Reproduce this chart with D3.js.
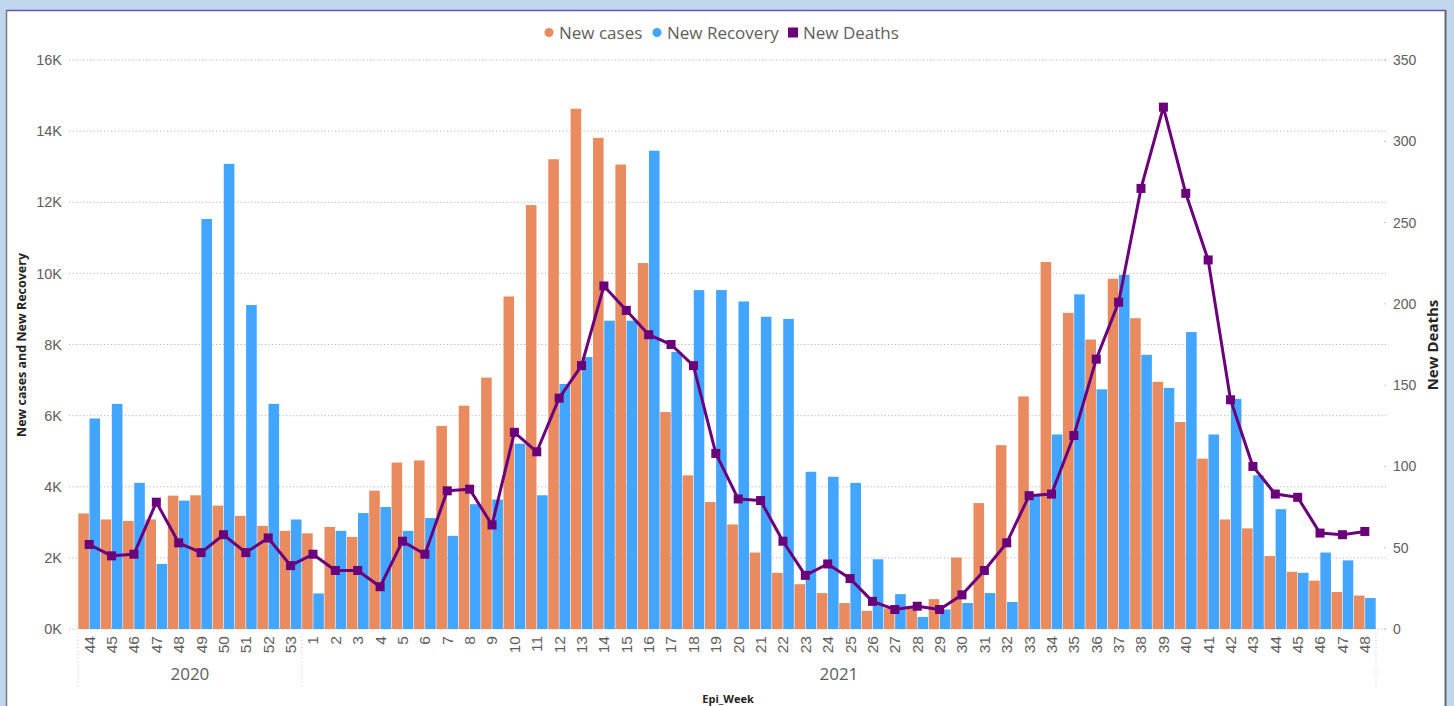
<!DOCTYPE html>
<html>
<head>
<meta charset="utf-8">
<script src="https://cdn.jsdelivr.net/npm/d3@7"></script>
<style>
  html, body { margin: 0; padding: 0; background: #bfd6ee; }
  svg { display: block; font-family: "Segoe UI", "Open Sans", sans-serif; }
</style>
</head>
<body>
<svg id="chart"></svg>
<script>
const width = 1454;
const height = 706;

// epi weeks, grouped by year
const weeks2020 = ["44", "45", "46", "47", "48", "49", "50", "51", "52", "53"];
const weeks2021 = ["1", "2", "3", "4", "5", "6", "7", "8", "9", "10", "11", "12", "13", "14", "15", "16",
  "17", "18", "19", "20", "21", "22", "23", "24", "25", "26", "27", "28", "29", "30", "31", "32",
  "33", "34", "35", "36", "37", "38", "39", "40", "41", "42", "43", "44", "45", "46", "47", "48"];
const years = ["2020", "2021"];

const newCases = [3250, 3080, 3040, 3080, 3750, 3760, 3470, 3180, 2900, 2760,
  2690, 2870, 2590, 3890, 4680, 4740, 5710, 6280, 7070, 9350, 11920, 13210, 14630, 13810, 13060, 10290,
  6100, 4320, 3570, 2940, 2150, 1580, 1260, 1010, 730, 510, 580, 590, 840, 2010, 3540, 5170,
  6540, 10320, 8890, 8140, 9850, 8740, 6950, 5820, 4790, 3080, 2830, 2050, 1610, 1360, 1040, 940];

const newRecovery = [5920, 6330, 4110, 1830, 3610, 11530, 13080, 9110, 6330, 3080,
  1000, 2760, 3260, 3430, 2760, 3120, 2620, 3510, 3640, 5210, 3760, 6890, 7650, 8670, 8670, 13450,
  7790, 9530, 9530, 9210, 8780, 8720, 4420, 4280, 4110, 1960, 980, 340, 550, 730, 1010, 760,
  3760, 5470, 9410, 6740, 9960, 7710, 6780, 8350, 5470, 6470, 4320, 3370, 1580, 2150, 1930, 870];

const newDeaths = [52, 45, 46, 78, 53, 47, 58, 47, 56, 39,
  46, 36, 36, 26, 54, 46, 85, 86, 64, 121, 109, 142, 162, 211, 196, 181,
  175, 162, 108, 80, 79, 54, 33, 40, 31, 17, 12, 14, 12, 21, 36, 53,
  82, 83, 119, 166, 201, 271, 321, 268, 227, 141, 100, 83, 81, 59, 58, 60];

const leftTicks = [0, 2000, 4000, 6000, 8000, 10000, 12000, 14000, 16000];
const rightTicks = [0, 50, 100, 150, 200, 250, 300, 350];

const seriesNames = ["New cases", "New Recovery", "New Deaths"];
const colors = { cases: "#ea8a5f", recovery: "#42a5ff", deaths: "#6b007b" };

// build rows
const rows = [];
weeks2020.forEach(w => rows.push({ year: "2020", week: w }));
weeks2021.forEach(w => rows.push({ year: "2021", week: w }));
rows.forEach((r, i) => {
  r.key = r.year + "-" + r.week;
  r.cases = newCases[i];
  r.recovery = newRecovery[i];
  r.deaths = newDeaths[i];
});

const svg = d3.select("#chart").attr("width", width).attr("height", height);

// frame
svg.append("rect").attr("width", width).attr("height", height).attr("fill", "#bfd6ee");
svg.append("rect").attr("x", 7).attr("y", 10).attr("width", 1438).attr("height", 700).attr("fill", "#fff");
svg.append("line").attr("x1", 7).attr("x2", 1446).attr("y1", 10.5).attr("y2", 10.5)
  .attr("stroke", "#6a4fb8").attr("stroke-width", 1.5);
svg.append("line").attr("x1", 6.5).attr("x2", 6.5).attr("y1", 10).attr("y2", height)
  .attr("stroke", "#7a7a7a").attr("stroke-width", 1.5);
svg.append("line").attr("x1", 1445.5).attr("x2", 1445.5).attr("y1", 10).attr("y2", height)
  .attr("stroke", "#666", ).attr("stroke-width", 2);

const plotLeft = 78, plotRight = 1376, plotTop = 60, plotBottom = 629;

const x = d3.scaleBand().domain(rows.map(d => d.key)).range([plotLeft, plotRight]).paddingInner(0).paddingOuter(0);
const xSub = d3.scaleBand().domain(["cases", "recovery"]).range([0, x.bandwidth()]).padding(0);
const y = d3.scaleLinear().domain([0, 16000]).range([plotBottom, plotTop]);
const y2 = d3.scaleLinear().domain([0, 350]).range([plotBottom, plotTop]);

// gridlines
svg.append("g").selectAll("line").data(leftTicks).join("line")
  .attr("x1", 69).attr("x2", 1386)
  .attr("y1", d => y(d)).attr("y2", d => y(d))
  .attr("stroke", "#b8b6b4").attr("stroke-width", 1).attr("stroke-dasharray", "1.2,2.3");

// left axis
const yAxis = d3.axisLeft(y).tickValues(leftTicks).tickSize(0).tickPadding(0)
  .tickFormat(d => (d / 1000) + "K");
const gy = svg.append("g").attr("transform", "translate(62,0)").call(yAxis);
gy.select(".domain").remove();
gy.selectAll("text").attr("fill", "#605e5c").style("font-size", "14.5px");

// right axis
const y2Axis = d3.axisRight(y2).tickValues(rightTicks).tickSize(0).tickPadding(0);
const gy2 = svg.append("g").attr("transform", "translate(1393,0)").call(y2Axis);
gy2.select(".domain").remove();
gy2.selectAll("text").attr("fill", "#605e5c").style("font-size", "14px");
svg.append("g").selectAll("circle").data(rightTicks).join("circle")
  .attr("cx", 1385).attr("cy", d => y2(d)).attr("r", 0.7).attr("fill", "#aaa");

// bars
const groups = svg.append("g").selectAll("g").data(rows).join("g")
  .attr("transform", d => `translate(${x(d.key)},0)`);
groups.selectAll("rect").data(d => ["cases", "recovery"].map(k => ({ k, v: d[k] }))).join("rect")
  .attr("x", d => xSub(d.k) + 0.3)
  .attr("width", xSub.bandwidth() - 0.6)
  .attr("y", d => y(d.v))
  .attr("height", d => y(0) - y(d.v))
  .attr("fill", d => colors[d.k]);

// deaths line
const lineGen = d3.line()
  .x(d => x(d.key) + x.bandwidth() / 2)
  .y(d => y2(d.deaths));
svg.append("path").datum(rows).attr("d", lineGen)
  .attr("fill", "none").attr("stroke", colors.deaths).attr("stroke-width", 3)
  .attr("stroke-linejoin", "round");
svg.append("g").selectAll("rect").data(rows).join("rect")
  .attr("x", d => x(d.key) + x.bandwidth() / 2 - 4.5)
  .attr("y", d => y2(d.deaths) - 4.5)
  .attr("width", 9).attr("height", 9)
  .attr("fill", colors.deaths);

// x axis labels
const xAxis = d3.axisBottom(x).tickSize(0).tickPadding(0).tickFormat(k => k.split("-")[1]);
const gx = svg.append("g").attr("transform", `translate(0,${plotBottom})`).call(xAxis);
gx.select(".domain").remove();
gx.selectAll("text")
  .attr("transform", "rotate(-90)")
  .attr("x", -7).attr("y", 0).attr("dy", "0.35em")
  .attr("text-anchor", "end")
  .attr("fill", "#605e5c").style("font-size", "15.5px");

// year groups
const yearInfo = years.map(yr => {
  const keys = rows.filter(r => r.year === yr).map(r => r.key);
  return { year: yr, x0: x(keys[0]), x1: x(keys[keys.length - 1]) + x.bandwidth() };
});
const sepX = [yearInfo[0].x0, yearInfo[1].x0, yearInfo[1].x1];
svg.append("g").selectAll("line").data(sepX).join("line")
  .attr("x1", d => d).attr("x2", d => d).attr("y1", 633).attr("y2", 688)
  .attr("stroke", "#c8c6c4").attr("stroke-dasharray", "1,2.5");
svg.append("g").selectAll("text").data(yearInfo).join("text")
  .attr("x", d => (d.x0 + d.x1) / 2).attr("y", 680)
  .attr("text-anchor", "middle").attr("fill", "#605e5c").style("font-size", "17px")
  .text(d => d.year);

// axis titles
svg.append("text").attr("x", 728).attr("y", 703).attr("text-anchor", "middle")
  .attr("fill", "#252423").style("font-size", "11px").style("font-weight", "bold").text("Epi_Week");
svg.append("text").attr("transform", "translate(26,345) rotate(-90)").attr("text-anchor", "middle")
  .attr("fill", "#252423").style("font-size", "12.5px").style("font-weight", "bold")
  .text("New cases and New Recovery");
svg.append("text").attr("transform", "translate(1438,345) rotate(-90)").attr("text-anchor", "middle")
  .attr("fill", "#252423").style("font-size", "15px").style("font-weight", "bold")
  .text("New Deaths");

// legend
const legend = svg.append("g");
const legItems = [
  { name: seriesNames[0], color: colors.cases, shape: "circle", x: 549 },
  { name: seriesNames[1], color: colors.recovery, shape: "circle", x: 657 },
  { name: seriesNames[2], color: colors.deaths, shape: "square", x: 793 }
];
legItems.forEach(d => {
  if (d.shape === "circle") {
    legend.append("circle").attr("cx", d.x).attr("cy", 32.5).attr("r", 4.5).attr("fill", d.color);
  } else {
    legend.append("rect").attr("x", d.x - 5).attr("y", 27.5).attr("width", 10).attr("height", 10).attr("fill", d.color);
  }
  legend.append("text").attr("x", d.x + 10).attr("y", 39)
    .attr("fill", "#605e5c").style("font-size", "17px").text(d.name);
});
</script>
</body>
</html>
